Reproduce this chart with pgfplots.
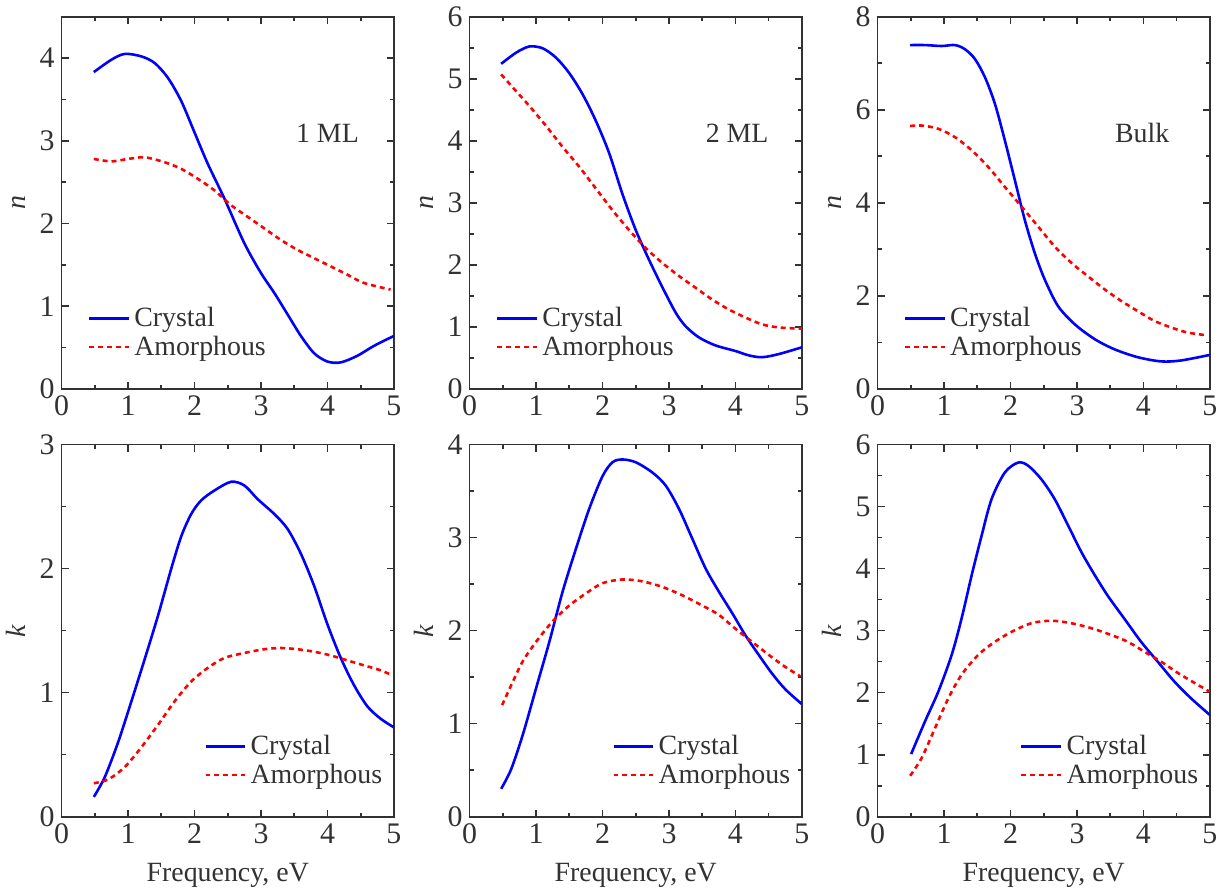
\documentclass[border=0pt]{standalone}
\usepackage{fontspec}
\setmainfont{Liberation Serif}
\usepackage{pgfplots}
\pgfplotsset{compat=1.18}
\usepgfplotslibrary{groupplots}

\definecolor{axgray}{RGB}{50,50,50}

\pgfplotsset{
  every axis/.append style={
    scale only axis, width=167pt, height=187pt,
    xmin=0, xmax=5, ymin=0,
    xtick={0,1,2,3,4,5}, minor x tick num=1,
    tick align=inside,
    major tick length=3.5pt, minor tick length=2pt,
    axis line style={axgray, line width=0.9pt},
    every tick/.style={axgray, line width=0.8pt},
    tick label style={font=\fontsize{15}{17}\selectfont, text=axgray},
    label style={font=\fontsize{14}{16}\selectfont, text=axgray},
    xlabel style={yshift=-3pt},
    /pgf/number format/assume math mode=true,
    legend cell align=left,
    legend style={draw=none, fill=none, font=\fontsize{14}{14}\selectfont, text=axgray,
      row sep=-1pt},
    legend image code/.code={\draw[#1] (0pt,0pt) -- (20pt,0pt);},
  },
  cry/.style={blue, line width=1.3pt, smooth},
  amo/.style={red, line width=1.3pt, dash pattern=on 2.5pt off 2pt, smooth},
}

\begin{document}
\begin{tikzpicture}
\begin{groupplot}[
  group style={group size=3 by 2, horizontal sep=38pt, vertical sep=28pt},
]
% ---- n, 1 ML
\nextgroupplot[ymax=4.5, ytick={0,1,2,3,4}, minor y tick num=1,
  ylabel={\textit{n}},
  legend style={at={(0.06,0.06)}, anchor=south west}]
\addplot[cry] coordinates {
(0.485,3.83)(0.75,3.98)(0.95,4.05)(1.2,4.02)(1.4,3.94)(1.6,3.76)(1.8,3.48)(2.0,3.10)
(2.2,2.72)(2.45,2.30)(2.75,1.76)(3.0,1.40)(3.2,1.16)(3.4,0.90)(3.6,0.64)(3.8,0.43)
(4.0,0.33)(4.2,0.32)(4.45,0.40)(4.7,0.52)(5.0,0.64)};
\addplot[amo] coordinates {
(0.485,2.78)(0.75,2.75)(1.0,2.78)(1.25,2.80)(1.55,2.74)(1.8,2.66)(2.05,2.54)(2.3,2.40)
(2.55,2.22)(2.8,2.08)(3.05,1.94)(3.3,1.80)(3.55,1.68)(3.8,1.58)(4.05,1.48)(4.3,1.38)
(4.55,1.28)(4.95,1.20)};
\legend{Crystal,Amorphous}
\node[font=\fontsize{14}{14}\selectfont, text=axgray] at (rel axis cs:0.80,0.687) {1 ML};
% ---- n, 2 ML
\nextgroupplot[ymax=6, ytick={0,1,2,3,4,5,6}, minor y tick num=1,
  ylabel={\textit{n}},
  legend style={at={(0.06,0.06)}, anchor=south west}]
\addplot[cry] coordinates {
(0.475,5.24)(0.7,5.42)(0.9,5.52)(1.1,5.49)(1.3,5.34)(1.5,5.09)(1.7,4.75)(1.9,4.32)
(2.1,3.80)(2.3,3.14)(2.5,2.56)(2.7,2.08)(2.9,1.64)(3.1,1.23)(3.25,1.01)(3.45,0.83)
(3.7,0.70)(4.0,0.61)(4.2,0.54)(4.4,0.51)(4.65,0.56)(5.0,0.67)};
\addplot[amo] coordinates {
(0.475,5.07)(0.7,4.80)(0.9,4.56)(1.15,4.24)(1.4,3.90)(1.65,3.58)(1.9,3.23)(2.15,2.88)
(2.4,2.56)(2.65,2.27)(2.9,2.03)(3.15,1.82)(3.4,1.63)(3.65,1.44)(3.9,1.28)(4.15,1.15)
(4.4,1.04)(4.65,0.99)(5.0,0.97)};
\legend{Crystal,Amorphous}
\node[font=\fontsize{14}{14}\selectfont, text=axgray] at (rel axis cs:0.805,0.687) {2 ML};
% ---- n, Bulk
\nextgroupplot[ymax=8, ytick={0,2,4,6,8}, minor y tick num=1,
  ylabel={\textit{n}},
  legend style={at={(0.06,0.06)}, anchor=south west}]
\addplot[cry] coordinates {
(0.49,7.39)(0.715,7.39)(0.965,7.37)(1.165,7.39)(1.315,7.30)(1.465,7.09)(1.615,6.70)
(1.765,6.13)(1.915,5.34)(2.065,4.49)(2.215,3.63)(2.365,2.92)(2.515,2.35)(2.715,1.78)
(2.965,1.39)(3.265,1.07)(3.565,0.85)(3.915,0.68)(4.265,0.59)(4.565,0.61)(5.0,0.73)};
\addplot[amo] coordinates {
(0.49,5.65)(0.665,5.66)(0.915,5.59)(1.165,5.41)(1.415,5.13)(1.665,4.77)(1.915,4.34)
(2.165,3.92)(2.415,3.49)(2.665,3.06)(2.915,2.71)(3.165,2.42)(3.415,2.14)(3.665,1.89)
(3.915,1.67)(4.165,1.46)(4.415,1.32)(4.665,1.21)(4.965,1.15)};
\legend{Crystal,Amorphous}
\node[font=\fontsize{14}{14}\selectfont, text=axgray] at (rel axis cs:0.796,0.687) {Bulk};
% ---- k, 1 ML
\nextgroupplot[ymax=3, ytick={0,1,2,3}, minor y tick num=1,
  ylabel={\textit{k}}, xlabel={Frequency, eV},
  legend style={at={(0.41,0.06)}, anchor=south west}]
\addplot[cry] coordinates {
(0.485,0.16)(0.65,0.32)(0.85,0.60)(1.05,0.93)(1.25,1.27)(1.45,1.62)(1.65,2.00)
(1.8,2.26)(1.95,2.44)(2.1,2.55)(2.3,2.63)(2.55,2.70)(2.75,2.67)(2.95,2.56)(3.2,2.44)(3.4,2.32)
(3.6,2.12)(3.8,1.86)(4.0,1.55)(4.2,1.28)(4.4,1.06)(4.6,0.89)(4.8,0.79)(5.0,0.72)};
\addplot[amo] coordinates {
(0.485,0.27)(0.7,0.30)(0.95,0.40)(1.2,0.56)(1.45,0.74)(1.7,0.93)(1.95,1.09)(2.2,1.20)
(2.45,1.28)(2.75,1.32)(3.05,1.35)(3.3,1.36)(3.55,1.35)(3.8,1.33)(4.05,1.30)(4.3,1.26)
(4.55,1.22)(4.8,1.18)(4.975,1.14)};
\legend{Crystal,Amorphous}
% ---- k, 2 ML
\nextgroupplot[ymax=4, ytick={0,1,2,3,4}, minor y tick num=1,
  ylabel={\textit{k}}, xlabel={Frequency, eV},
  legend style={at={(0.41,0.06)}, anchor=south west}]
\addplot[cry] coordinates {
(0.475,0.30)(0.625,0.51)(0.8,0.88)(1.0,1.38)(1.2,1.88)(1.4,2.42)(1.6,2.88)(1.8,3.31)
(2.0,3.66)(2.15,3.81)(2.3,3.84)(2.5,3.81)(2.75,3.70)(2.95,3.56)(3.15,3.31)(3.35,2.99)
(3.55,2.67)(3.75,2.42)(3.95,2.19)(4.15,1.95)(4.35,1.74)(4.55,1.54)(4.75,1.37)(5.0,1.21)};
\addplot[amo] coordinates {
(0.49,1.20)(0.65,1.45)(0.8,1.67)(1.0,1.88)(1.25,2.10)(1.5,2.27)(1.75,2.40)(2.0,2.51)
(2.3,2.55)(2.6,2.53)(2.9,2.47)(3.2,2.38)(3.5,2.27)(3.75,2.17)(4.0,2.02)(4.25,1.88)
(4.5,1.74)(4.75,1.61)(4.975,1.51)};
\legend{Crystal,Amorphous}
% ---- k, Bulk
\nextgroupplot[ymax=6, ytick={0,1,2,3,4,5,6}, minor y tick num=1,
  ylabel={\textit{k}}, xlabel={Frequency, eV},
  legend style={at={(0.41,0.06)}, anchor=south west}]
\addplot[cry] coordinates {
(0.505,1.01)(0.715,1.54)(0.915,2.02)(1.115,2.61)(1.265,3.20)(1.415,3.89)(1.565,4.53)
(1.715,5.12)(1.915,5.55)(2.115,5.71)(2.265,5.66)(2.465,5.44)(2.665,5.12)(2.865,4.70)
(3.065,4.27)(3.265,3.90)(3.465,3.56)(3.715,3.19)(3.965,2.82)(4.215,2.50)(4.465,2.18)
(4.715,1.91)(5.0,1.64)};
\addplot[amo] coordinates {
(0.49,0.66)(0.665,0.95)(0.865,1.43)(1.065,1.91)(1.265,2.29)(1.515,2.61)(1.765,2.82)
(2.015,2.98)(2.315,3.12)(2.615,3.16)(2.915,3.12)(3.215,3.04)(3.515,2.93)(3.765,2.82)
(4.015,2.66)(4.265,2.50)(4.515,2.32)(4.765,2.16)(4.99,2.02)};
\legend{Crystal,Amorphous}
\end{groupplot}
\end{tikzpicture}
\end{document}
